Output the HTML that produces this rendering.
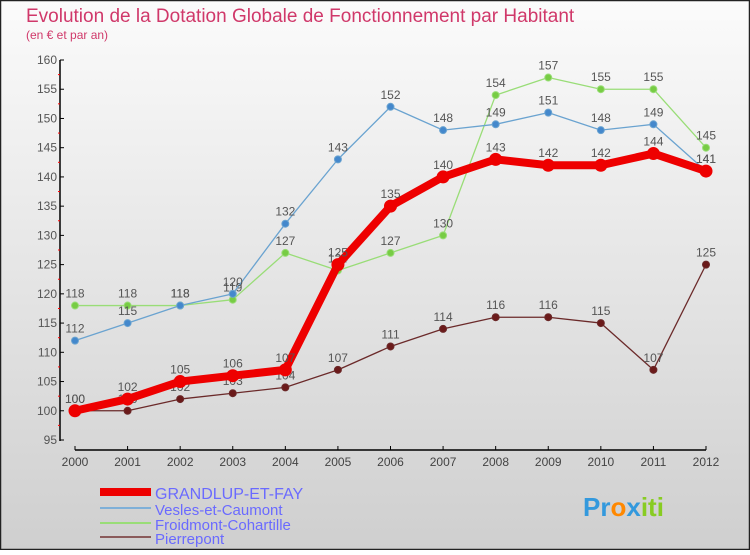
<!DOCTYPE html>
<html><head><meta charset="utf-8"><style>
html,body{margin:0;padding:0;}
body{width:750px;height:550px;overflow:hidden;font-family:"Liberation Sans",sans-serif;}
</style></head><body>
<svg id="chart" width="750" height="550" xmlns="http://www.w3.org/2000/svg">
<defs><linearGradient id="bg" x1="0" y1="0" x2="0" y2="1"><stop offset="0" stop-color="#fbfbfb"/><stop offset="1" stop-color="#cfcfcf"/></linearGradient></defs>
<rect x="0.5" y="0.5" width="749" height="549" fill="url(#bg)" stroke="#222" stroke-width="1.5"/>
<text x="26" y="22" font-size="19" fill="#d0386a">Evolution de la Dotation Globale de Fonctionnement par Habitant</text>
<text x="26" y="39" font-size="12" fill="#d0386a">(en € et par an)</text>
<g id="axes"></g>
<g id="series"></g>
<g id="legend">
<line x1="100" y1="492" x2="151" y2="492" stroke="#ee0000" stroke-width="8"/>
<text x="155" y="499" font-size="16" fill="#6a6aff">GRANDLUP-ET-FAY</text>
<line x1="100" y1="508" x2="151" y2="508" stroke="#7fb0d8" stroke-width="2"/>
<text x="155" y="515" font-size="15" fill="#6a6aff">Vesles-et-Caumont</text>
<line x1="100" y1="523" x2="151" y2="523" stroke="#99dd77" stroke-width="2"/>
<text x="155" y="530" font-size="15" fill="#6a6aff">Froidmont-Cohartille</text>
<line x1="100" y1="537" x2="151" y2="537" stroke="#8a5a5a" stroke-width="2"/>
<text x="155" y="544" font-size="15" fill="#6a6aff">Pierrepont</text>
</g>
<g font-size="26" font-weight="bold">
<text x="583" y="516"><tspan fill="#3399dd">Pr</tspan><tspan fill="#ff8800">o</tspan><tspan fill="#3399dd">x</tspan><tspan fill="#88cc22">iti</tspan></text>
</g>
</svg>
<script>
const years=[2000,2001,2002,2003,2004,2005,2006,2007,2008,2009,2010,2011,2012];
const grandlup=[100,102,105,106,107,125,135,140,143,142,142,144,141];
const vesles=[112,115,118,120,132,143,152,148,149,151,148,149,141];
const froidmont=[118,118,118,119,127,124,127,130,154,157,155,155,145];
const pierrepont=[100,100,102,103,104,107,111,114,116,116,115,107,125];
const yTicks=[95,100,105,110,115,120,125,130,135,140,145,150,155,160];
const NS="http://www.w3.org/2000/svg";
function x(i){return 75+i*(706-75)/(years.length-1);}
function y(v){return 440-(v-95)*(380/65);}
function mk(tag,attrs,parent){const e=document.createElementNS(NS,tag);for(const k in attrs)e.setAttribute(k,attrs[k]);parent.appendChild(e);return e;}
const axes=document.getElementById('axes');
let yl=mk('line',{x1:60,y1:60,x2:60,y2:441,stroke:'#000','stroke-width':1.5},axes);


let xl=mk('line',{x1:75,y1:450,x2:706,y2:450,stroke:'#000','stroke-width':1.5},axes);


yTicks.forEach(v=>{
  mk('line',{x1:60,y1:y(v),x2:64,y2:y(v),stroke:'#000'},axes);
  if(v<160) mk('line',{x1:58,y1:y(v+2.5),x2:60,y2:y(v+2.5),stroke:'#f00'},axes);
  const t=mk('text',{x:57,y:y(v)+4,'font-size':12,fill:'#555','text-anchor':'end'},axes);
  
  
  t.textContent=v;
});
years.forEach((yr,i)=>{
  mk('line',{x1:x(i),y1:446,x2:x(i),y2:450,stroke:'#000'},axes);
  const t=mk('text',{x:x(i),y:466,'font-size':12,fill:'#444','text-anchor':'middle'},axes);
  
  
  t.textContent=yr;
});
const sg=document.getElementById('series');
function draw(name,vals,color,w,r,dot,fs){
  const g=mk('g',{},sg);
  
  
  const p=mk('polyline',{points:vals.map((v,i)=>x(i)+','+y(v)).join(' '),fill:'none',stroke:color,'stroke-width':w,'stroke-linejoin':'round'},g);
  
  
  vals.forEach((v,i)=>{
    const c=mk('circle',{cx:x(i),cy:y(v),r:r,fill:dot,stroke:color,'stroke-width':1},g);
    
    
    const t=mk('text',{x:x(i),y:y(v)-8,'font-size':fs,fill:'#555','text-anchor':'middle'},g);
    
    
    t.textContent=v;
  });
}
draw('pierrepont',pierrepont,'#6b2a2a',1.3,3.5,'#6b1a1a',12);
draw('froidmont',froidmont,'#99dd77',1.3,3.5,'#77cc44',12);
draw('vesles',vesles,'#6aa3d0',1.3,3.5,'#4488cc',12);
draw('grandlup',grandlup,'#ee0000',8,6,'#ee0000',12);
</script>
</body></html>
